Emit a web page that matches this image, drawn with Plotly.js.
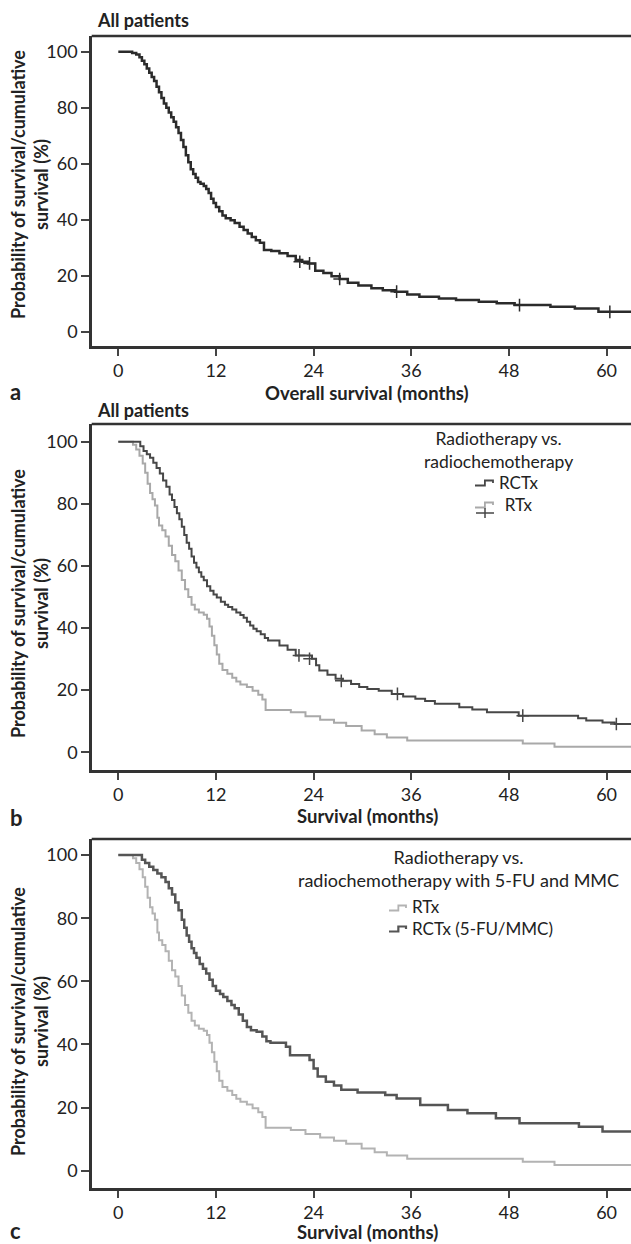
<!DOCTYPE html>
<html>
<head>
<meta charset="utf-8">
<script src="https://cdn.plot.ly/plotly-3.0.1.min.js"></script>
<style>html,body{margin:0;padding:0;background:#fff;}#chart{width:631px;height:1244px;}</style>
</head>
<body>
<div id="chart"></div>
<script>
// ---------- Data ----------
const monthTicks = [0, 12, 24, 36, 48, 60];
const pctTicks = [0, 20, 40, 60, 80, 100];

// Panel a: all patients (Kaplan-Meier step points: time in months, survival in %)
const allT = [0, 1.7, 2.2, 2.6, 2.9, 3.2, 3.5, 3.8, 4.1, 4.4, 4.7, 5.0, 5.3, 5.6, 5.9, 6.2, 6.5, 6.8, 7.1, 7.4, 7.7, 8.0, 8.3, 8.6, 8.9, 9.2, 9.5, 9.8, 10.1, 10.5, 10.8, 11.1, 11.4, 11.7, 12.0, 12.4, 12.8, 13.2, 13.8, 14.3, 14.9, 15.4, 15.9, 16.4, 16.9, 17.4, 17.9, 18.8, 19.8, 20.8, 21.8, 22.6, 23.3, 24.2, 25.2, 26.2, 27.2, 28.2, 29.5, 31.1, 32.5, 34.0, 35.5, 37.0, 39.4, 41.5, 44.3, 46.5, 48.7, 53.1, 56.1, 59.0, 64];
const allS = [100, 99.5, 99, 98, 96.8, 95.5, 94, 92.5, 91, 89.5, 87.5, 85.5, 83.5, 81.5, 80, 78.3, 76.6, 75, 73, 71, 68.5, 66, 63, 60.5, 58, 56.3, 55, 53.5, 52.8, 52, 51, 49.5, 47.5, 46, 44.5, 43, 41.5, 40.5, 39.8, 38.8, 37.5, 36.3, 35.1, 33.8, 32.7, 31.8, 29.2, 28.8, 28, 27, 25.6, 25, 24.4, 21.8, 21, 19.8, 18.8, 17.5, 16.5, 15.5, 14.8, 14.3, 13.3, 12.5, 11.9, 11.3, 10.7, 10.2, 9.5, 8.9, 8.3, 7.1, 7.1];
const allCensT = [22.3, 23.5, 27.2, 34.2, 49.3, 60.4];
const allCensS = [25, 24.4, 18.8, 14.3, 9.5, 7.1];

// Panel b: RCTx (radiochemotherapy)
const rctT = [0, 2.7, 3.1, 3.5, 3.9, 4.3, 4.7, 5.1, 5.5, 5.9, 6.3, 6.6, 6.9, 7.2, 7.5, 7.8, 8.1, 8.4, 8.7, 9.0, 9.3, 9.6, 9.9, 10.2, 10.5, 10.9, 11.3, 11.7, 12.1, 12.6, 13.1, 13.5, 14.0, 14.5, 15.0, 15.4, 15.8, 16.2, 16.6, 17.0, 17.5, 18.0, 18.4, 19.8, 20.8, 21.8, 23.8, 24.3, 24.7, 25.7, 26.7, 27.6, 28.6, 29.6, 30.6, 32.0, 33.6, 35.0, 36.5, 37.7, 38.9, 41.9, 43.5, 45.3, 49.2, 55.0, 56.5, 57.5, 59.5, 61.0, 64];
const rctS = [100, 98.5, 97, 96, 94.8, 93.2, 91.5, 89.8, 87.5, 85.5, 83, 81.2, 79, 77, 75, 72.6, 70, 67.5, 65.5, 63, 61, 59.5, 58, 56.5, 55.4, 53.5, 52, 50.8, 49.8, 48.5, 47.5, 46.8, 46, 45, 44.2, 43.3, 42, 40.8, 39.8, 39, 38, 36.8, 36, 34.4, 33, 31.2, 30.1, 28, 26.3, 25, 23.7, 23, 22, 21, 20.4, 19.8, 18.8, 18, 17.2, 16.5, 15.6, 14.5, 13.8, 12.9, 11.8, 11.8, 11, 10.2, 9.6, 9.1, 9.1];
const rctCensT = [22.2, 23.5, 27.4, 34.3, 49.7, 61.2];
const rctCensS = [31.2, 30.1, 23.0, 18.8, 11.8, 9.1];

// Panels b and c: RTx (radiotherapy alone)
const rtT = [0, 1.8, 2.2, 2.6, 3.0, 3.3, 3.6, 3.9, 4.2, 4.5, 4.8, 5.0, 5.4, 5.8, 6.2, 6.6, 7.0, 7.4, 7.8, 8.2, 8.6, 9.0, 9.4, 9.9, 10.5, 10.9, 11.2, 11.5, 11.8, 12.1, 12.4, 12.8, 13.4, 14.0, 14.5, 15.0, 15.8, 16.5, 17.2, 17.7, 18.1, 21.2, 23.0, 24.8, 26.5, 28.0, 29.9, 31.5, 33.0, 35.5, 49.7, 53.6, 64];
const rtS = [100, 99, 97.5, 95.5, 93, 90, 86.5, 83.5, 81.5, 79.5, 75.5, 73, 71.5, 69.5, 66.5, 63.5, 61.5, 58.5, 55.5, 52.5, 50, 47.5, 46, 45, 44.3, 43, 40.5, 37.5, 34.5, 31.5, 28.5, 26.5, 25.3, 24, 22.8, 21.8, 21, 19.8, 18.5, 17, 13.6, 12.9, 11.6, 10.5, 9.5, 8.5, 7, 5.8, 4.8, 3.8, 2.8, 1.8, 1.8];

// Panel c: RCTx with 5-FU and MMC
const mmcT = [0, 2.9, 3.3, 3.8, 4.3, 4.8, 5.3, 5.8, 6.2, 6.6, 7.0, 7.4, 7.8, 8.1, 8.4, 8.7, 9.0, 9.3, 9.6, 10.0, 10.4, 10.8, 11.2, 11.6, 12.0, 12.5, 12.9, 13.4, 13.9, 14.3, 14.8, 15.3, 15.8, 16.3, 17.0, 17.7, 18.2, 18.7, 20.6, 21.1, 23.5, 24.0, 24.5, 25.5, 26.5, 27.4, 29.4, 32.8, 34.2, 37.1, 40.5, 42.9, 46.4, 49.3, 56.6, 59.5, 64];
const mmcS = [100, 98.5, 97.5, 96.3, 95.3, 94.2, 93, 91.5, 89.5, 87.5, 85, 82.5, 79.5, 77, 74.5, 72.5, 70.5, 69, 67.5, 65.5, 64, 62.5, 60.5, 58.5, 57, 56, 55, 53.8, 52.5, 51.5, 49.5, 47.5, 45.5, 44.5, 44, 42.5, 41, 40.5, 39.3, 36.6, 35.1, 32.4, 29.8, 28.2, 27, 25.6, 24.8, 24, 22.9, 20.8, 19.2, 18.2, 16.6, 15, 13.9, 12.4, 11.3, 11.3];

// ---------- Styling ----------
const FONT = 'Lato, "Open Sans", sans-serif';
const DARK = '#2b2b2b', MID = '#474747', LIGHT = '#a9a9a9', CDARK = '#555555', CLIGHT = '#b3b3b3';
const W = 631, H = 1244;
const px = v => v / W;
const py = v => 1 - v / H;

const censMarker = c => ({symbol: 'cross-thin-open', size: 9, color: c, line: {color: c, width: 1.5}});

const traces = [
  {x: allT, y: allS, xaxis: 'x', yaxis: 'y', mode: 'lines', line: {shape: 'hv', color: DARK, width: 2.5}, name: 'All patients'},
  {x: allCensT, y: allCensS, xaxis: 'x', yaxis: 'y', mode: 'markers', marker: censMarker(DARK), name: 'censored'},

  {x: rtT, y: rtS, xaxis: 'x2', yaxis: 'y2', mode: 'lines', line: {shape: 'hv', color: LIGHT, width: 2}, name: 'RTx'},
  {x: rctT, y: rctS, xaxis: 'x2', yaxis: 'y2', mode: 'lines', line: {shape: 'hv', color: MID, width: 2}, name: 'RCTx'},
  {x: rctCensT, y: rctCensS, xaxis: 'x2', yaxis: 'y2', mode: 'markers', marker: censMarker(MID), name: 'censored'},

  {x: rtT, y: rtS, xaxis: 'x3', yaxis: 'y3', mode: 'lines', line: {shape: 'hv', color: CLIGHT, width: 2}, name: 'RTx'},
  {x: mmcT, y: mmcS, xaxis: 'x3', yaxis: 'y3', mode: 'lines', line: {shape: 'hv', color: CDARK, width: 2.5}, name: 'RCTx (5-FU/MMC)'}
];

function xax(anchor) {
  return {
    anchor: anchor, domain: [px(91.7), 1], range: [-3.27, 63],
    tickvals: monthTicks, ticktext: monthTicks.map(String),
    ticks: 'outside', ticklen: 7, tickwidth: 2, tickcolor: '#444',
    showline: true, linewidth: 2.5, linecolor: '#333',
    showgrid: false, zeroline: false, fixedrange: true,
    tickfont: {family: FONT, size: 18, color: '#222'}
  };
}
function yax(anchor, domPx, range) {
  return {
    anchor: anchor, domain: [py(domPx[1]), py(domPx[0])], range: range,
    tickvals: pctTicks, ticktext: pctTicks.map(String),
    ticks: 'outside', ticklen: 8, tickwidth: 2, tickcolor: '#444',
    showline: true, linewidth: 2.5, linecolor: '#333',
    showgrid: false, zeroline: false, fixedrange: true,
    tickfont: {family: FONT, size: 18, color: '#222'}
  };
}

const topLine = (xr, yr) => ({type: 'line', xref: xr + ' domain', yref: yr + ' domain', x0: 0, x1: 1, y0: 1, y1: 1, line: {color: '#333', width: 2.5}});

// legend glyphs (small Kaplan-Meier step icons and a censor cross)
function stepIcon(x0, yc, w, color, width) {
  const xm = x0 + w * 0.55, x1 = x0 + w;
  const path = 'M ' + px(x0) + ' ' + py(yc + 2.5) + ' L ' + px(xm) + ' ' + py(yc + 2.5) + ' L ' + px(xm) + ' ' + py(yc - 2.5) +
               ' L ' + px(x1) + ' ' + py(yc - 2.5) + ' L ' + px(x1) + ' ' + py(yc);
  return {type: 'path', xref: 'paper', yref: 'paper', path: path, line: {color: color, width: width}};
}
function crossIcon(xc, yc, color) {
  const path = 'M ' + px(xc - 9) + ' ' + py(yc) + ' L ' + px(xc + 9) + ' ' + py(yc) +
               ' M ' + px(xc) + ' ' + py(yc - 5) + ' L ' + px(xc) + ' ' + py(yc + 5);
  return {type: 'path', xref: 'paper', yref: 'paper', path: path, line: {color: color, width: 1.5}};
}

const ann = (text, x, y, opts) => Object.assign({text: text, x: px(x), y: py(y), xref: 'paper', yref: 'paper', showarrow: false, xanchor: 'left', yanchor: 'middle', font: {family: FONT, size: 18, color: '#222'}}, opts || {});
const bold = (size) => ({family: FONT, size: size, color: '#222', weight: 'bold'});
const reg = (size) => ({family: FONT, size: size, color: '#222'});
const yTitle = 'Probability of survival/cumulative<br>survival (%)';

const layout = {
  width: W, height: H,
  margin: {l: 0, r: 0, t: 0, b: 0},
  paper_bgcolor: '#ffffff', plot_bgcolor: '#ffffff',
  font: {family: FONT, color: '#222'},
  showlegend: false,
  xaxis: xax('y'),
  yaxis: yax('x', [36, 346], [-5.1, 105.6]),
  xaxis2: xax('y2'),
  yaxis2: yax('x2', [424, 770], [-5.7, 105.7]),
  xaxis3: xax('y3'),
  yaxis3: yax('x3', [839, 1188], [-5.5, 105.1]),
  shapes: [
    topLine('x', 'y'), topLine('x2', 'y2'), topLine('x3', 'y3'),
    stepIcon(475, 483, 18, MID, 1.8), stepIcon(475, 505, 18, LIGHT, 1.8), crossIcon(485, 513, MID),
    stepIcon(389, 908, 17, CLIGHT, 1.8), stepIcon(389, 929, 17, CDARK, 2.2)
  ],
  annotations: [
    ann(yTitle, 29, 185, {xanchor: 'center', textangle: -90, font: bold(18)}),
    ann(yTitle, 29, 604, {xanchor: 'center', textangle: -90, font: bold(18)}),
    ann(yTitle, 29, 1022, {xanchor: 'center', textangle: -90, font: bold(18)}),
    ann('Overall survival (months)', 367, 393, {xanchor: 'center', font: bold(18.5)}),
    ann('Survival (months)', 367, 816, {xanchor: 'center', font: bold(18.5)}),
    ann('Survival (months)', 367, 1232, {xanchor: 'center', font: bold(18.5)}),
    ann('All patients', 95, 20, {font: bold(18)}),
    ann('All patients', 95, 410, {font: bold(18)}),
    ann('a', 8, 391, {font: bold(22)}),
    ann('b', 8, 817, {font: bold(22)}),
    ann('c', 8, 1230, {font: bold(22)}),
    ann('Radiotherapy vs.<br>radiochemotherapy', 498, 450, {xanchor: 'center', font: reg(17.5)}),
    ann('RCTx<br>RTx', 497, 494, {font: reg(17)}),
    ann('Radiotherapy vs.<br>radiochemotherapy with 5-FU and MMC', 458, 868, {xanchor: 'center', font: reg(18)}),
    ann('RTx<br>RCTx (5-FU/MMC)', 410, 918, {align: 'left', font: reg(17)})
  ]
};

Plotly.newPlot('chart', traces, layout, {staticPlot: true, displayModeBar: false});
</script>
</body>
</html>
